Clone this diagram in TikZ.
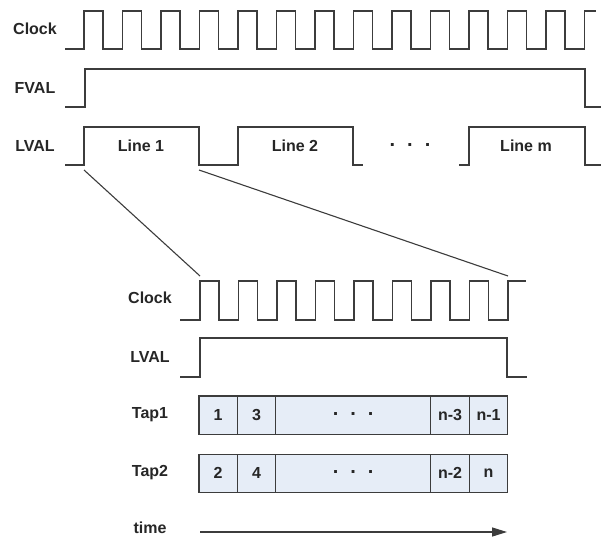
\documentclass[tikz,border=0pt]{standalone}
\usepackage{fontspec}
\setmainfont{Liberation Sans}
\usetikzlibrary{arrows.meta}
\definecolor{wave}{HTML}{3C3C3C}
\definecolor{tapfill}{HTML}{E6EDF7}
\newcommand{\gapdots}{\raisebox{2.5pt}{\fontsize{20}{20}\selectfont.\hspace{12pt}.\hspace{12pt}.}}

\begin{document}
\begin{tikzpicture}[x=1pt,y=-1pt,>={Triangle[length=15pt,width=9pt]},
  sig/.style={draw=wave,line width=1.3pt,line join=miter},
  lbl/.style={font=\fontsize{16}{19}\selectfont\bfseries,text=black!85,inner sep=0pt},
  tapcell/.style={draw=wave,line width=1.3pt,fill=tapfill,outer sep=0pt,inner sep=0pt,
    minimum height=38.3pt,font=\fontsize{16}{19}\selectfont\bfseries,text=black!85}]
\useasboundingbox (0,0) rectangle (601,537);

% full frame
\node[lbl] (clkA) at (35,29) {Clock};
\node[lbl] (fval) at (35,88) {FVAL};
\node[lbl] (lvalA) at (35,146) {LVAL};

\draw[sig] (65,49) \foreach \i in {0,...,12}{ -- ({84+38.5*\i},49) -- ({84+38.5*\i},11) -- ({103+38.5*\i},11) -- ({103+38.5*\i},49)}
  -- (584.5,49) -- (584.5,11) -- (596,11);
\draw[sig] (65,107) -- (85,107) -- (85,69) -- (585,69) -- (585,107) -- (601,107);
\draw[sig] (65,165) -- (84,165) -- (84,127) -- (199,127) -- (199,165) -- (238,165) -- (238,127) -- (353,127) -- (353,165) -- (363,165);
\draw[sig] (459,165) -- (469,165) -- (469,127) -- (585,127) -- (585,165) -- (601,165);

\node[lbl] (line1) at (141,146) {Line 1};
\node[lbl] (line2) at (295,146) {Line 2};
\node[lbl] (gap) at (410,146) {\gapdots};
\node[lbl] (linem) at (526,146) {Line m};

% one line, zoomed in
\coordinate (zoomL) at (84,170);
\coordinate (zoomR) at (199,170);
\coordinate (clkB1) at (200,276);
\coordinate (clkB9) at (508,276);
\draw[sig,line width=1.1pt] (zoomL) -- (clkB1);
\draw[sig,line width=1.1pt] (zoomR) -- (clkB9);

\node[lbl] (clkB) at (150,298) {Clock};
\node[lbl] (lvalB) at (150,357) {LVAL};
\node[lbl] (tap1) at (150,415) {Tap1};
\node[lbl] (tap2) at (150,473) {Tap2};
\node[lbl] (time) at (150,528) {time};

\draw[sig] (180,320) \foreach \i in {0,...,7}{ -- ({200+38.5*\i},320) -- ({200+38.5*\i},281) -- ({219+38.5*\i},281) -- ({219+38.5*\i},320)}
  -- (508,320) -- (508,281) -- (526,281);
\draw[sig] (180,377) -- (200,377) -- (200,338) -- (507,338) -- (507,377) -- (527,377);

\foreach \l/\r/\txt [count=\k] in {199/237.3/1, 237.3/275.7/3, 275.7/430.7/\gapdots, 430.7/469.3/n-3, 469.3/507.7/n-1}
  \node[tapcell,minimum width={(\r-\l)*1pt}] (tapA\k) at ({(\l+\r)/2},415.2) {\txt};
\foreach \l/\r/\txt [count=\k] in {199/237.3/2, 237.3/275.7/4, 275.7/430.7/\gapdots, 430.7/469.3/n-2, 469.3/507.7/n}
  \node[tapcell,minimum width={(\r-\l)*1pt}] (tapB\k) at ({(\l+\r)/2},473.3) {\txt};

\coordinate (tstart) at (200,532);
\coordinate (tend) at (507,532);
\draw[sig,->] (tstart) -- (tend);
\end{tikzpicture}
\end{document}
